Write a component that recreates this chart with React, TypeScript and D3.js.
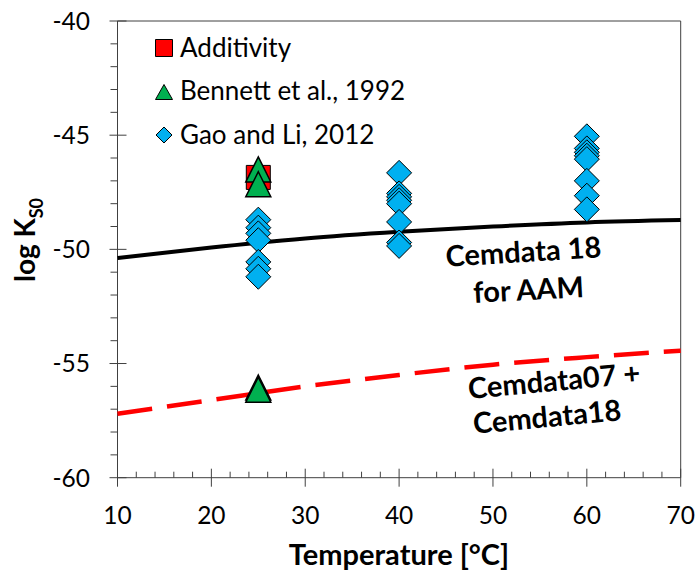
import React from "react";
import * as d3 from "d3";

// ---- data ----
const lineTemps = [10, 20, 30, 40, 50, 60, 70];
const cemdata18AAM = [-50.38, -49.92, -49.52, -49.23, -49.0, -48.82, -48.72];
const cemdata07plus18 = [-57.2, -56.6, -56.0, -55.5, -55.05, -54.72, -54.44];

const additivityT = [25];
const additivityLogK = [-46.85];

const bennettT = [25, 25, 25, 25];
const bennettLogK = [-46.5, -47.15, -56.05, -56.15];

const gaoT = [
  25, 25, 25, 25, 25, 25, 25,
  40, 40, 40, 40, 40, 40, 40, 40,
  60, 60, 60, 60, 60, 60, 60, 60,
];
const gaoLogK = [
  -48.7, -49.05, -49.3, -49.6, -50.55, -50.85, -51.2,
  -46.65, -47.55, -47.7, -47.85, -48.0, -48.8, -49.7, -49.85,
  -45.05, -45.58, -45.75, -45.9, -46.05, -47.0, -47.65, -48.25,
];

const xMajorTicks = [10, 20, 30, 40, 50, 60, 70];
const yMajorTicks = [-60, -55, -50, -45, -40];
const legendLabels = ["Additivity", "Bennett et al., 1992", "Gao and Li, 2012"];

const W = 697;
const H = 573;
const FONT = "Lato, 'Open Sans', sans-serif";

export default function App() {
  const x = d3.scaleLinear().domain([10, 70]).range([117.5, 680.7]);
  const y = d3.scaleLinear().domain([-60, -40]).range([477.7, 21]);
  const x0 = x(10);
  const x1 = x(70);
  const y0 = y(-60);
  const y1 = y(-40);

  const line = d3
    .line<number>()
    .x((_, i) => x(lineTemps[i]))
    .y((d) => y(d))
    .curve(d3.curveMonotoneX);

  const xMinor = d3.range(10, 70.01, 2).filter((v) => v % 10 !== 0);
  const yMinor = d3.range(-60, -39.99, 1).filter((v) => v % 5 !== 0);

  const sq = (cx: number, cy: number, s: number) =>
    `M${cx - s / 2},${cy - s / 2}h${s}v${s}h${-s}Z`;
  const tri = (cx: number, cy: number, w: number, h: number) =>
    `M${cx},${cy - h / 2}L${cx + w / 2},${cy + h / 2}L${cx - w / 2},${cy + h / 2}Z`;
  const dia = (cx: number, cy: number, r: number) =>
    `M${cx},${cy - r}L${cx + r},${cy}L${cx},${cy + r}L${cx - r},${cy}Z`;

  const red = "#FF0000";
  const green = "#00B050";
  const blue = "#00B0F0";
  const axisColor = "#404040";

  return (
    <svg
      width={W}
      height={H}
      style={{ position: "absolute", left: 0, top: 0, background: "#fff" }}
      fontFamily={FONT}
    >
      <rect width={W} height={H} fill="#fff" />
      {/* frame */}
      <line x1={x0} x2={x1} y1={y1} y2={y1} stroke={axisColor} strokeWidth={1} />
      <line x1={x1} x2={x1} y1={y1} y2={y0} stroke={axisColor} strokeWidth={1} />
      {/* axes */}
      <line x1={x0} x2={x1} y1={y0} y2={y0} stroke={axisColor} strokeWidth={1} />
      <line x1={x0} x2={x0} y1={y1} y2={y0} stroke={axisColor} strokeWidth={1} />
      {xMajorTicks.map((t) => (
        <g key={"xm" + t}>
          <line x1={x(t)} x2={x(t)} y1={y0 - 9} y2={y0 + 9} stroke={axisColor} />
          <text x={x(t)} y={524} textAnchor="middle" fontSize={24.5} fill="#000">
            {t}
          </text>
        </g>
      ))}
      {xMinor.map((t) => (
        <line key={"xn" + t} x1={x(t)} x2={x(t)} y1={y0 - 6} y2={y0} stroke={axisColor} />
      ))}
      {yMajorTicks.map((t) => (
        <g key={"ym" + t}>
          <line x1={x0 - 8} x2={x0 + 9} y1={y(t)} y2={y(t)} stroke={axisColor} />
          <text
            x={90}
            y={y(t)}
            dy="0.36em"
            textAnchor="end"
            fontSize={24.5}
            fill="#000"
          >
            {t}
          </text>
        </g>
      ))}
      {yMinor.map((t) => (
        <line key={"yn" + t} x1={x0 - 7} x2={x0} y1={y(t)} y2={y(t)} stroke={axisColor} />
      ))}

      {/* lines */}
      <path d={line(cemdata18AAM) || ""} fill="none" stroke="#000" strokeWidth={4} />
      <path
        d={line(cemdata07plus18) || ""}
        fill="none"
        stroke={red}
        strokeWidth={4.5}
        strokeDasharray="35 15"
      />

      {/* markers */}
      {additivityT.map((t, i) => (
        <path
          key={"a" + i}
          d={sq(x(t), y(additivityLogK[i]), 24)}
          fill={red}
          stroke="#000"
          strokeWidth={1}
        />
      ))}
      {bennettT.map((t, i) => (
        <path
          key={"b" + i}
          d={tri(x(t), y(bennettLogK[i]), 25, 25)}
          fill={green}
          stroke="#000"
          strokeWidth={1.5}
          strokeLinejoin="miter"
        />
      ))}
      {gaoT.map((t, i) => (
        <path
          key={"g" + i}
          d={dia(x(t), y(gaoLogK[i]), 12.5)}
          fill={blue}
          stroke="#000"
          strokeWidth={1}
        />
      ))}

      {/* legend */}
      <path d={sq(164, 48, 17)} fill={red} stroke="#000" strokeWidth={1} />
      <path d={tri(164, 92, 17, 15)} fill={green} stroke="#000" strokeWidth={1} />
      <path d={dia(164, 135, 8)} fill={blue} stroke="#000" strokeWidth={1} />
      {legendLabels.map((l, i) => (
        <text key={l} x={180} y={57 + i * 43.3} fontSize={26} fill="#000">
          {l}
        </text>
      ))}

      {/* annotations */}
      <g transform="translate(524,262) rotate(-3.5)">
        <text textAnchor="middle" fontSize={29} fontWeight="bold" fill="#000">
          Cemdata 18
        </text>
      </g>
      <g transform="translate(529,300) rotate(-3)">
        <text textAnchor="middle" fontSize={29} fontWeight="bold" fill="#000">
          for AAM
        </text>
      </g>
      <g transform="translate(555,391) rotate(-5.3)">
        <text textAnchor="middle" fontSize={29} fontWeight="bold" fill="#000">
          Cemdata07 +
        </text>
      </g>
      <g transform="translate(548,427) rotate(-5.3)">
        <text textAnchor="middle" fontSize={29} fontWeight="bold" fill="#000">
          Cemdata18
        </text>
      </g>

      {/* axis titles */}
      <text x={399} y={565} textAnchor="middle" fontSize={29} fontWeight="bold" fill="#000">
        Temperature [°C]
      </text>
      <g transform="translate(35,240) rotate(-90)">
        <text textAnchor="middle" fontSize={28} fontWeight="bold" fill="#000">
          log K
          <tspan fontSize={18} dy={8}>
            S0
          </tspan>
        </text>
      </g>
    </svg>
  );
}
